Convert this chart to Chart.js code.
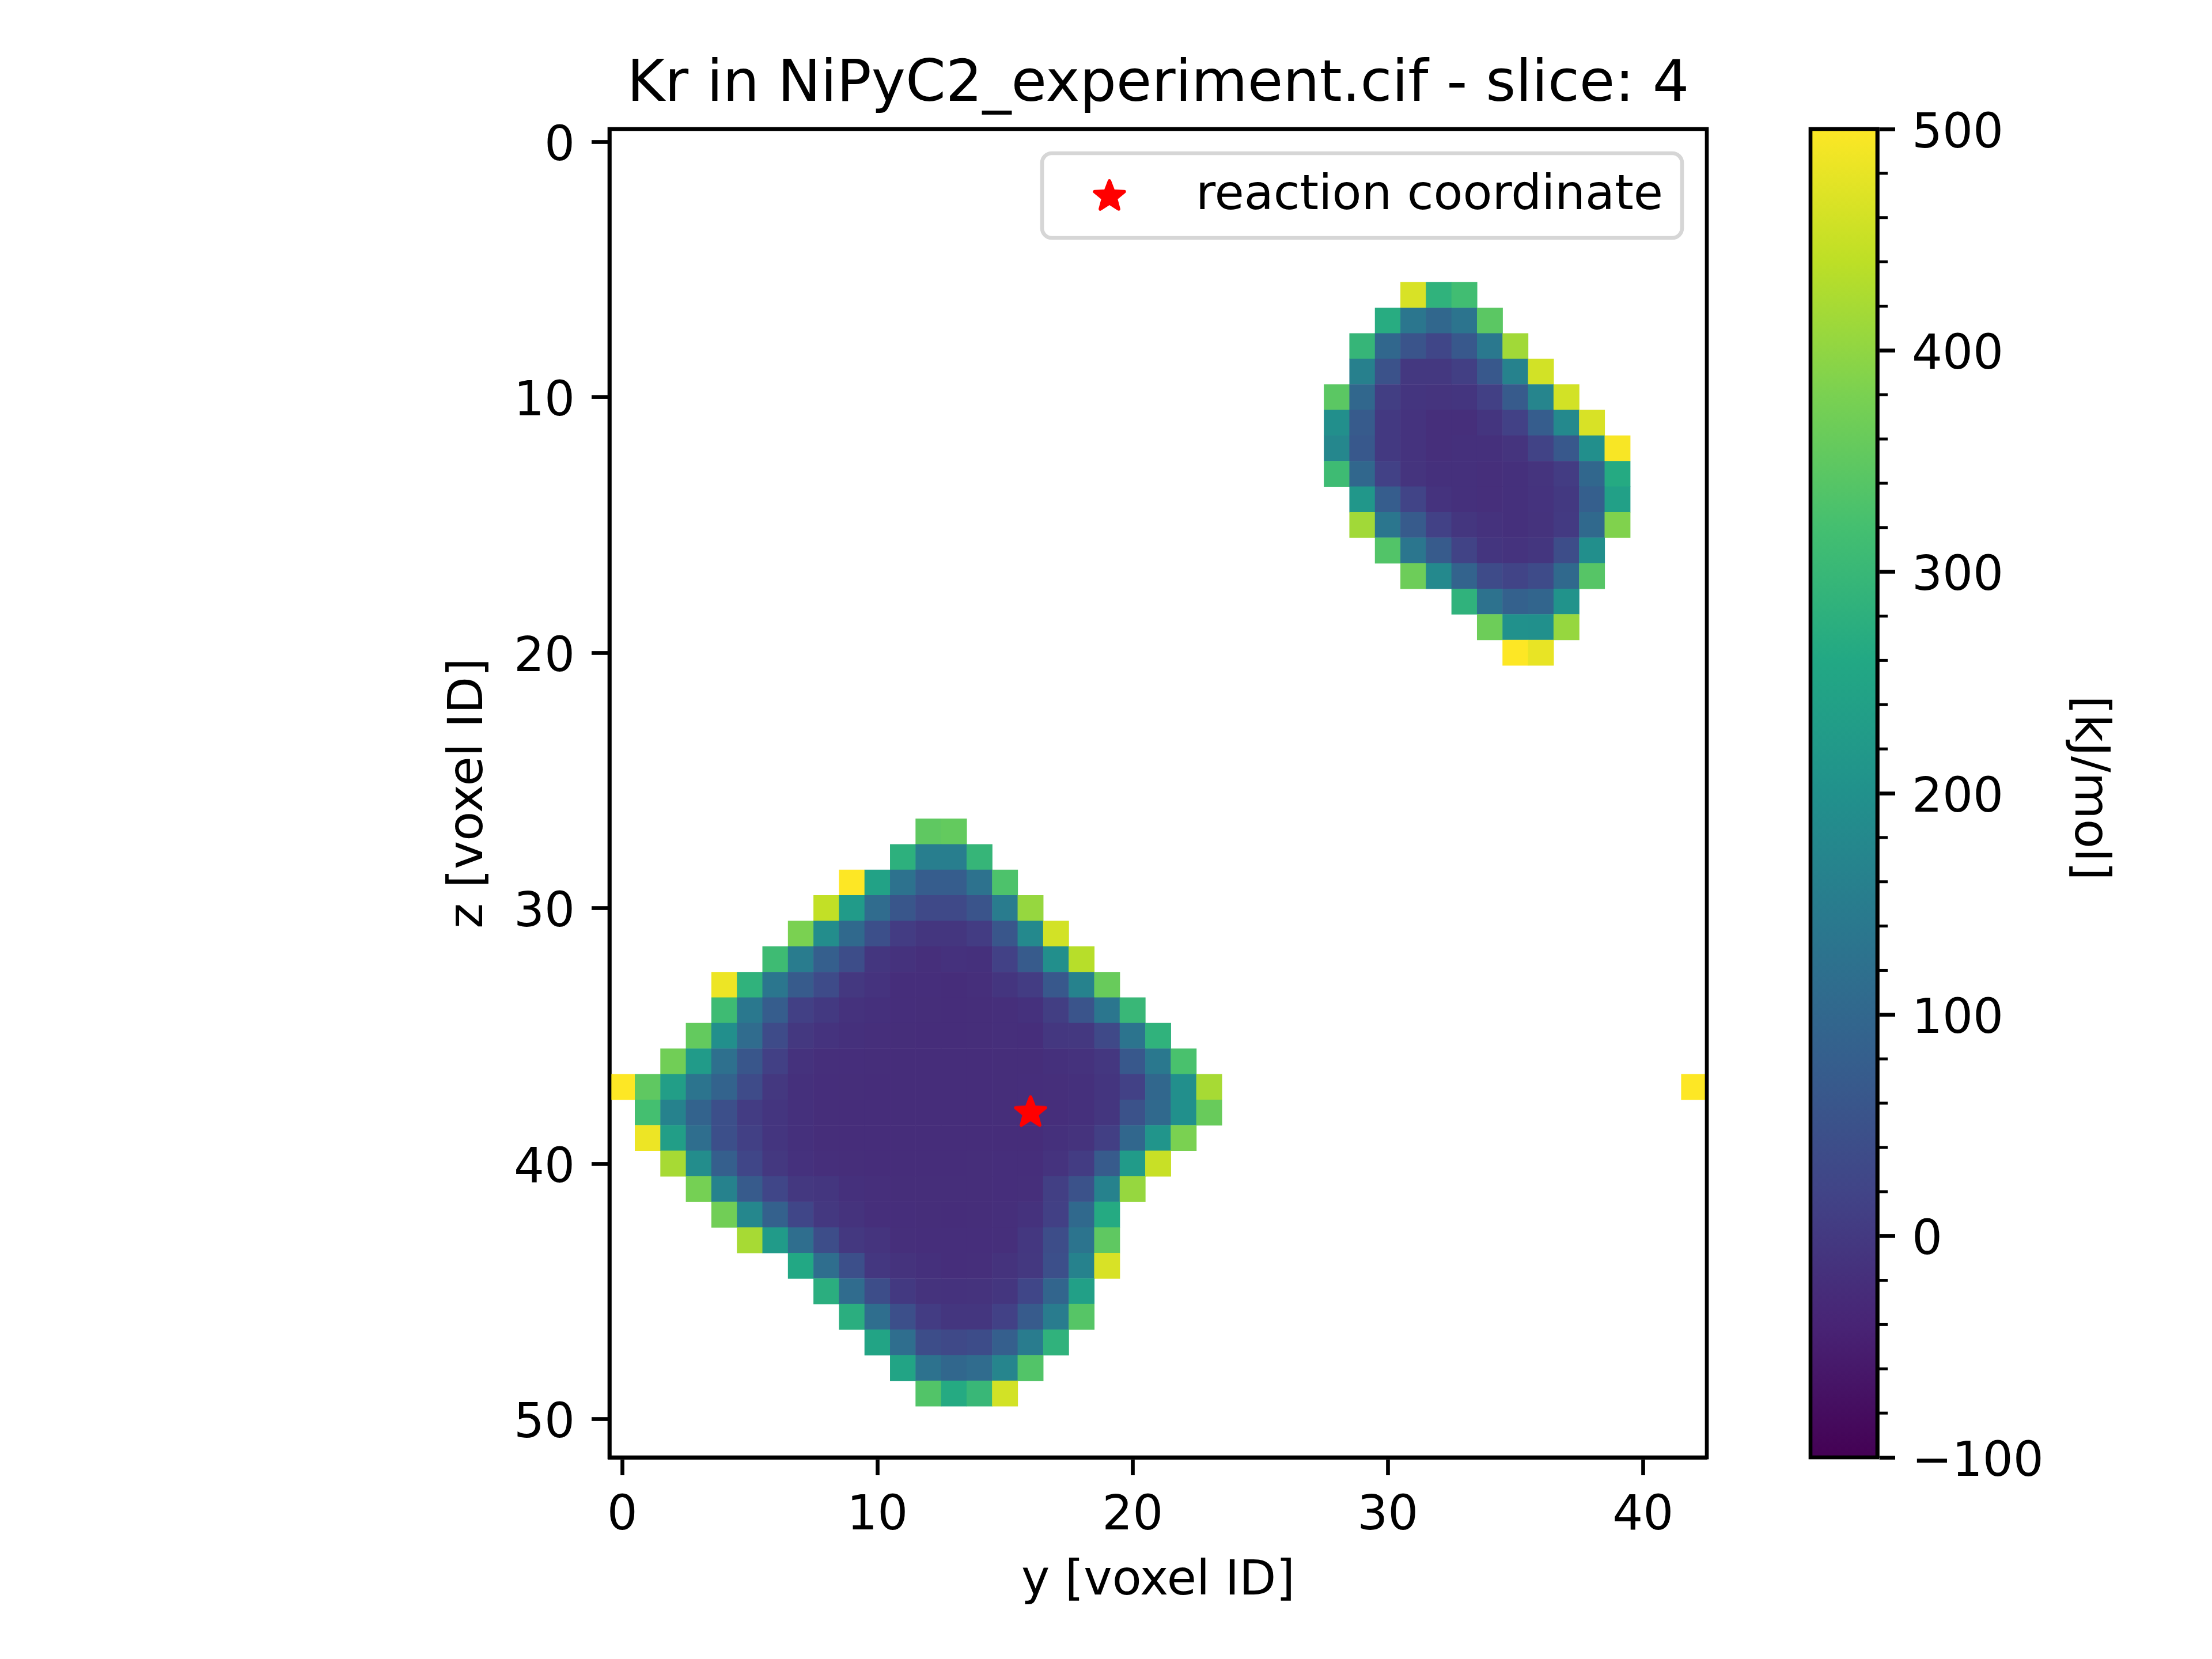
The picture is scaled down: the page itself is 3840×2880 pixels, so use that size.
<!DOCTYPE html>
<html lang="en">
<head>
<meta charset="UTF-8">
<title>Kr in NiPyC2_experiment.cif - slice: 4</title>
<script src="https://cdn.jsdelivr.net/npm/chart.js"></script>
<style>
    body { margin: 0; background: #fff; }
    canvas { position: absolute; left: 0; top: 0; }
</style>
</head>
<body>
<canvas id="map" width="3840" height="2880"></canvas>
<canvas id="bar" width="3840" height="2880"></canvas>
<script>
// one row per z voxel: z, first y voxel, energies in kJ/mol
const rowZ = [6, 7, 8, 9, 10, 11, 12, 13, 14, 15, 16, 17, 18, 19, 20,
              27, 28, 29, 30, 31, 32, 33, 34, 35, 36, 37, 38, 39, 40, 41, 42, 43, 44, 45, 46, 47, 48, 49, 37];
const rowStart = [31, 30, 29, 29, 28, 28, 28, 28, 29, 29, 30, 31, 33, 34, 35,
                  12, 11, 9, 8, 7, 6, 4, 4, 3, 2, 0, 1, 1, 2, 3, 4, 5, 7, 8, 9, 10, 11, 12, 42];
const rowValues = [
    [465, 285, 315],
    [270, 135, 100, 130, 345],
    [295, 100, 55, 25, 65, 140, 415],
    [160, 50, -3, -3, 10, 65, 165, 460],
    [345, 100, 8, -8, -10, -8, 12, 70, 170, 460],
    [195, 70, -1, -11, -20, -19, -8, 15, 75, 180, 465],
    [175, 65, -1, -11, -19, -18, -18, -10, 18, 65, 195, 495],
    [310, 100, 15, -10, -17, -18, -19, -18, -10, 5, 100, 265],
    [215, 75, 20, -11, -18, -19, -18, -11, 0, 80, 240],
    [415, 135, 70, 15, -7, -14, -18, -12, 2, 105, 385],
    [335, 135, 70, 18, -8, -11, -6, 40, 195],
    [365, 180, 90, 35, 20, 35, 105, 340],
    [285, 125, 85, 95, 205],
    [365, 200, 198, 405],
    [500, 480],

    [350, 355],
    [280, 155, 155, 295],
    [500, 245, 125, 75, 75, 125, 330],
    [445, 225, 110, 60, 30, 30, 55, 150, 405],
    [380, 190, 105, 45, 5, -6, -7, 5, 60, 180, 460],
    [310, 150, 80, 40, -6, -14, -19, -15, -17, 15, 70, 195, 435],
    [485, 285, 135, 70, 35, -3, -11, -21, -21, -23, -19, -8, 5, 65, 165, 360],
    [310, 140, 75, 12, -1, -14, -18, -21, -22, -24, -22, -20, -15, 8, 55, 135, 300],
    [355, 195, 110, 35, -3, -11, -18, -19, -22, -23, -23, -22, -19, -21, -4, -3, 30, 130, 285],
    [370, 225, 120, 60, 12, -14, -19, -21, -22, -23, -23, -23, -23, -22, -22, -17, -14, -4, 65, 140, 325],
    [500, 350, 235, 130, 90, 35, -3, -17, -21, -22, -23, -23, -23, -23, -23, -22, -21, -19, -18, -8, 15, 100, 195, 420],
    [320, 165, 90, 45, 5, -8, -18, -22, -23, -23, -23, -23, -23, -23, -22, -22, -21, -18, -6, 50, 105, 198, 360],
    [485, 235, 115, 45, 12, -8, -18, -22, -23, -23, -23, -23, -23, -23, -23, -23, -17, -12, 10, 100, 210, 380],
    [420, 190, 80, 25, -3, -15, -20, -22, -23, -23, -23, -23, -22, -21, -21, -11, 5, 70, 225, 450],
    [375, 165, 70, 25, -2, -7, -18, -19, -22, -22, -22, -22, -21, -19, 10, 50, 165, 405],
    [370, 175, 85, 25, -3, -12, -19, -21, -22, -23, -22, -19, -14, 12, 105, 265],
    [420, 225, 115, 40, -3, -10, -20, -21, -21, -21, -19, -4, 40, 130, 350],
    [260, 115, 45, -4, -12, -18, -21, -19, -12, -3, 45, 165, 465],
    [275, 110, 40, 0, -12, -14, -12, -6, 25, 95, 240],
    [275, 115, 45, 5, -6, -7, 15, 70, 150, 340],
    [250, 115, 40, 30, 38, 80, 150, 285],
    [250, 125, 100, 110, 170, 335],
    [335, 265, 300, 460],
    [500]
];

const reactionY = [16];
const reactionZ = [38];

const yVoxelTicks = [0, 10, 20, 30, 40];
const zVoxelTicks = [0, 10, 20, 30, 40, 50];
const barTicks = [-100, 0, 100, 200, 300, 400, 500];
const barTickLabels = ['\u2212100', '0', '100', '200', '300', '400', '500'];
const barMinorTicks = [-80, -60, -40, -20, 20, 40, 60, 80, 120, 140, 160, 180, 220, 240, 260, 280,
                       320, 340, 360, 380, 420, 440, 460, 480];

const viridis = ['#440154', '#482475', '#414487', '#355f8d', '#2a788e', '#21918c',
                 '#22a884', '#44bf70', '#7ad151', '#bddf26', '#fde725'];
const vMin = -100, vMax = 500;

const FONT = 'DejaVu Sans';
const LW = 6.67;

function hexToRgb(h) {
    return [1, 3, 5].map(i => parseInt(h.substr(i, 2), 16));
}

function colorFor(v) {
    const t = Math.min(1, Math.max(0, (v - vMin) / (vMax - vMin))) * (viridis.length - 1);
    const i = Math.min(Math.floor(t), viridis.length - 2);
    const a = hexToRgb(viridis[i]), b = hexToRgb(viridis[i + 1]);
    const c = a.map((x, k) => Math.round(x + (b[k] - x) * (t - i)));
    return 'rgb(' + c.join(',') + ')';
}

const cells = [];
rowZ.forEach((z, r) => {
    rowValues[r].forEach((v, k) => cells.push({ x: rowStart[r] + k, y: z, v: v }));
});

// filled five point star, chart.js only has an asterisk one
function makeStar() {
    const c = document.createElement('canvas');
    c.width = 72; c.height = 72;
    const g = c.getContext('2d');
    g.fillStyle = g.strokeStyle = '#ff0000';
    g.lineWidth = 6;
    g.lineJoin = 'round';
    g.beginPath();
    for (let i = 0; i < 10; i++) {
        const r = i % 2 ? 11.5 : 27;
        const a = -Math.PI / 2 + i * Math.PI / 5;
        g.lineTo(36 + r * Math.cos(a), 36 + r * Math.sin(a));
    }
    g.closePath();
    g.fill();
    g.stroke();
    return c;
}
const star = makeStar();

const frame = {
    id: 'frame',
    afterDatasetsDraw(chart) {
        const a = chart.chartArea, c = chart.ctx;
        c.save();
        c.strokeStyle = '#000';
        c.lineWidth = LW;
        c.strokeRect(a.left, a.top, a.right - a.left, a.bottom - a.top);
        c.restore();
    }
};

const legendBox = {
    id: 'legendBox',
    afterDraw(chart) {
        const c = chart.ctx;
        c.save();
        c.fillStyle = 'rgba(255,255,255,0.8)';
        c.strokeStyle = '#d6d6d6';
        c.lineWidth = LW;
        c.beginPath();
        c.roundRect(1809, 266, 1111, 147, 17);
        c.fill();
        c.stroke();
        c.drawImage(star, 1926 - 36, 341 - 36);
        c.fillStyle = '#000';
        c.font = '83.33px "' + FONT + '"';
        c.textBaseline = 'alphabetic';
        c.fillText('reaction coordinate', 2076, 363);
        c.restore();
    }
};

// minor ticks and the rotated label of the colour bar
const barExtras = {
    id: 'barExtras',
    afterDraw(chart) {
        const c = chart.ctx, s = chart.scales.y, x = chart.chartArea.right;
        c.save();
        c.strokeStyle = '#000';
        c.lineWidth = 5;
        barMinorTicks.forEach(v => {
            const y = s.getPixelForValue(v);
            c.beginPath();
            c.moveTo(x, y);
            c.lineTo(x + 18, y);
            c.stroke();
        });
        c.translate(3625, 1368);
        c.rotate(Math.PI / 2);
        c.fillStyle = '#000';
        c.font = '83.33px "' + FONT + '"';
        c.textAlign = 'center';
        c.textBaseline = 'middle';
        c.fillText('[kJ/mol]', 0, 0);
        c.restore();
    }
};

const axisFont = { family: FONT, size: 83.33 };

new Chart(document.getElementById('map'), {
    type: 'scatter',
    data: {
        datasets: [{
            label: 'reaction coordinate',
            data: reactionY.map((y, i) => ({ x: y, y: reactionZ[i] })),
            pointStyle: star,
            pointRadius: 30
        }, {
            label: 'Kr',
            data: cells,
            pointStyle: 'rect',
            borderWidth: 0,
            pointBorderWidth: 0,
            backgroundColor: ctx => colorFor(ctx.raw.v),
            pointBackgroundColor: ctx => colorFor(ctx.raw.v),
            pointRadius: ctx => {
                const s = ctx.chart.scales.x;
                return (s.getPixelForValue(1) - s.getPixelForValue(0) + 0.6) / Math.SQRT2;
            }
        }]
    },
    options: {
        responsive: false,
        animation: false,
        events: [],
        layout: { autoPadding: false, padding: { left: 765, right: 877, top: 89, bottom: 84 } },
        plugins: {
            legend: { display: false },
            tooltip: { enabled: false },
            title: {
                display: true,
                fullSize: false,
                text: 'Kr in NiPyC2_experiment.cif - slice: 4',
                color: '#000',
                font: { family: FONT, size: 100, weight: 'normal' },
                padding: { top: 0, bottom: 15 }
            }
        },
        scales: {
            x: {
                type: 'linear',
                min: -0.5,
                max: 42.5,
                afterBuildTicks: s => { s.ticks = yVoxelTicks.map(v => ({ value: v })); },
                afterFit: s => { s.height = 266; },
                grid: { drawOnChartArea: false, tickLength: 31, tickWidth: LW, tickColor: '#000' },
                border: { display: true, color: '#000', width: LW },
                ticks: { color: '#000', font: axisFont, padding: 22, maxRotation: 0 },
                title: { display: true, text: 'y [voxel ID]', color: '#000', font: axisFont, padding: 0 }
            },
            y: {
                type: 'linear',
                reverse: true,
                min: -0.5,
                max: 51.5,
                afterBuildTicks: s => { s.ticks = zVoxelTicks.map(v => ({ value: v })); },
                afterFit: s => { s.width = 293; },
                grid: { drawOnChartArea: false, tickLength: 31, tickWidth: LW, tickColor: '#000' },
                border: { display: true, color: '#000', width: LW },
                ticks: { color: '#000', font: axisFont, padding: 29, labelOffset: 10 },
                title: { display: true, text: 'z [voxel ID]', color: '#000', font: axisFont, padding: 0 }
            }
        }
    },
    plugins: [frame, legendBox]
});

new Chart(document.getElementById('bar'), {
    type: 'bar',
    data: {
        labels: ['kJ/mol'],
        datasets: [{
            data: [[vMin, vMax]],
            categoryPercentage: 1,
            barPercentage: 1,
            borderWidth: 0,
            backgroundColor: ctx => {
                const a = ctx.chart.chartArea;
                if (!a) return viridis[0];
                const g = ctx.chart.ctx.createLinearGradient(0, a.bottom, 0, a.top);
                viridis.forEach((c, i) => g.addColorStop(i / (viridis.length - 1), c));
                return g;
            }
        }]
    },
    options: {
        responsive: false,
        animation: false,
        events: [],
        layout: { autoPadding: false, padding: { left: 3143, right: 161, top: 224, bottom: 350 } },
        plugins: { legend: { display: false }, tooltip: { enabled: false }, title: { display: false } },
        scales: {
            x: { display: false },
            y: {
                type: 'linear',
                position: 'right',
                min: vMin,
                max: vMax,
                afterBuildTicks: s => { s.ticks = barTicks.map(v => ({ value: v })); },
                afterFit: s => { s.width = 420; },
                grid: { drawOnChartArea: false, tickLength: 31, tickWidth: LW, tickColor: '#000' },
                border: { display: true, color: '#000', width: LW },
                ticks: {
                    color: '#000',
                    font: axisFont,
                    padding: 29,
                    labelOffset: 10,
                    callback: v => barTickLabels[barTicks.indexOf(v)]
                }
            }
        }
    },
    plugins: [frame, barExtras]
});
</script>
</body>
</html>
